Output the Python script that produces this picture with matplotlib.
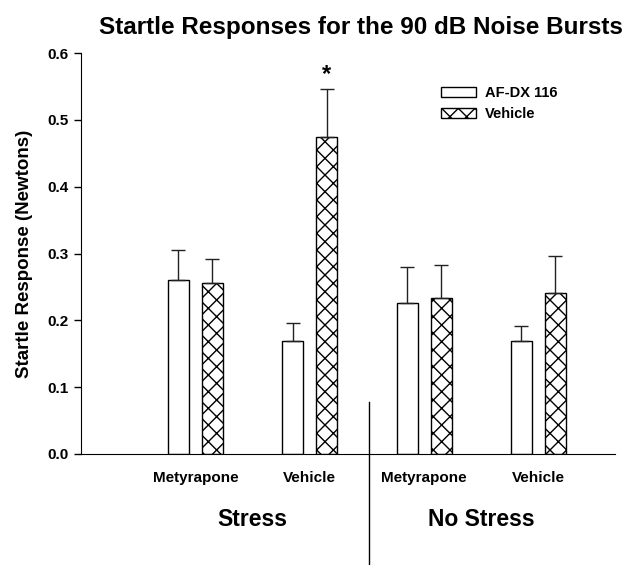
import matplotlib.pyplot as plt
import numpy as np

plt.rcParams['font.family'] = ['Liberation Sans', 'DejaVu Sans']
plt.rcParams['font.weight'] = 'bold'
plt.rcParams['hatch.linewidth'] = 1.0

# Data
conditions = ["Metyrapone", "Vehicle", "Metyrapone", "Vehicle"]
groups = ["Stress", "No Stress"]
afdx_mean = [0.261, 0.169, 0.226, 0.169]
afdx_err = [0.045, 0.027, 0.054, 0.022]
vehicle_mean = [0.256, 0.474, 0.234, 0.241]
vehicle_err = [0.036, 0.072, 0.049, 0.055]

fig = plt.figure(figsize=(6.44, 5.65), dpi=100)
ax = fig.add_axes([0.1258, 0.1965, 0.8292, 0.7095])

x = np.arange(1, len(conditions) + 1)
w = 0.184
off = 0.149

ebar = dict(ecolor='#222222', elinewidth=1, capsize=5, capthick=1)
ax.bar(x - off, afdx_mean, w, color='white', edgecolor='black', lw=1,
       yerr=[np.zeros(4), afdx_err], error_kw=ebar, label='AF-DX 116')
ax.bar(x + off, vehicle_mean, w, color='white', edgecolor='black', lw=1, hatch='xx',
       yerr=[np.zeros(4), vehicle_err], error_kw=ebar, label='Vehicle')

ax.set_xlim(0, 4.67)
ax.set_ylim(0, 0.6)
yt = np.arange(0, 0.61, 0.1)
ax.set_yticks(yt)
ax.set_yticklabels([f"{v:.1f}" for v in yt], fontsize=11, fontweight='bold')
ax.set_xticks([])
ax.tick_params(axis='y', direction='out', length=5, width=1, pad=4)
ax.spines['top'].set_visible(False)
ax.spines['right'].set_visible(False)
ax.set_ylabel("Startle Response (Newtons)", fontsize=13.5, fontweight='bold', labelpad=10)

for xi, name in zip(x, conditions):
    ax.text(xi, -0.036, name, ha='center', va='center', fontsize=11, fontweight='bold')
ax.text(1.5, -0.098, groups[0], ha='center', va='center', fontsize=16.5, fontweight='bold')
ax.text(3.5, -0.098, groups[1], ha='center', va='center', fontsize=16.5, fontweight='bold')

# divider between stress groups
ax.plot([2.52, 2.52], [0.078, -0.166], color='black', lw=1, clip_on=False)

# significance marker
ax.text(x[1] + off, 0.568, "*", ha='center', va='center', fontsize=17, fontweight='bold')

ax.legend(loc='upper left', bbox_to_anchor=(0.65, 0.95), frameon=False, fontsize=10.5,
          handlelength=2.4, handleheight=0.7, labelspacing=0.45, handletextpad=0.6)

fig.text(0.561, 0.951, "Startle Responses for the 90 dB Noise Bursts", ha='center', va='center',
         fontsize=17.5, fontweight='bold')

fig.savefig("out.png", dpi=100)
